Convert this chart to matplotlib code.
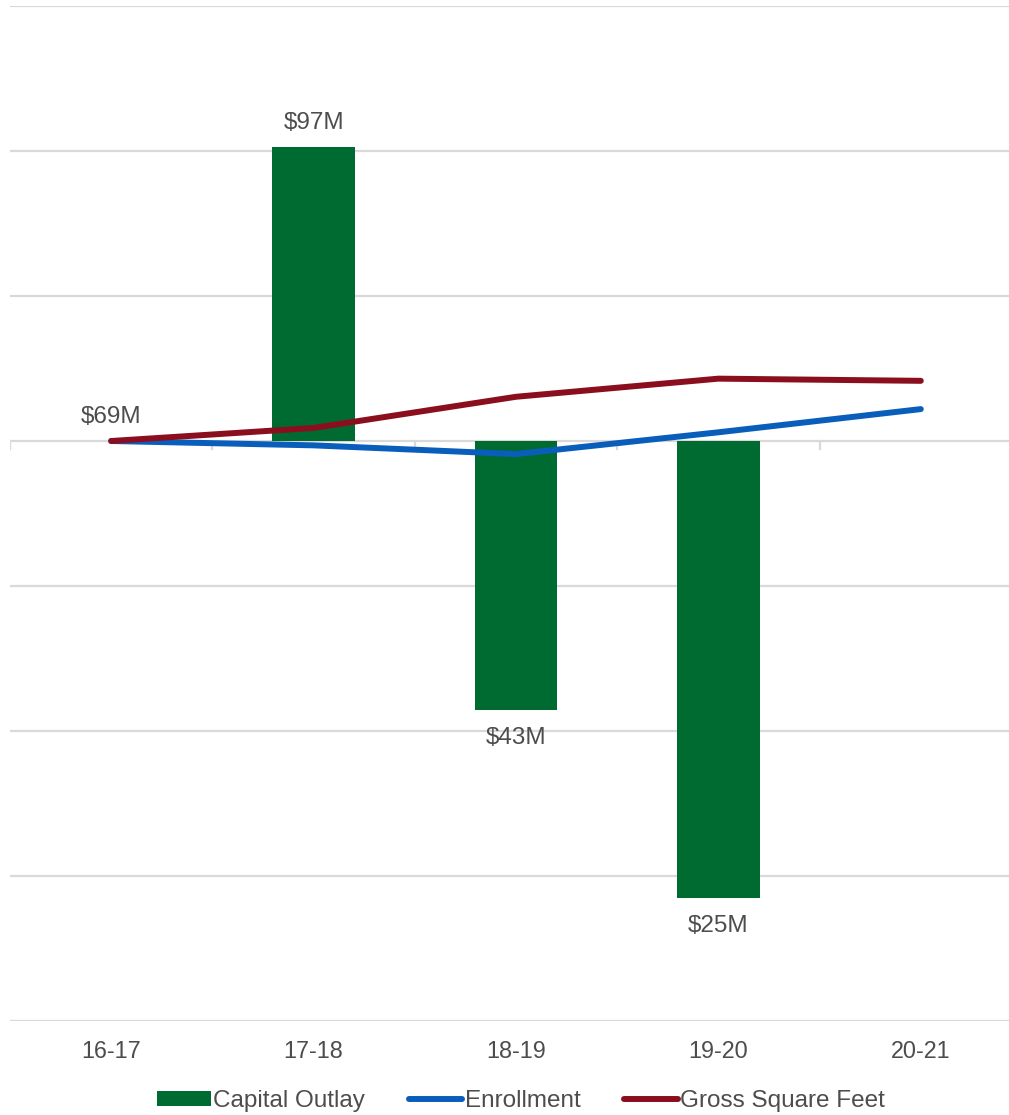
import matplotlib.pyplot as plt
from matplotlib.patches import Patch
from matplotlib.lines import Line2D

plt.rcParams['font.family'] = ['Liberation Sans', 'DejaVu Sans']

# Percent change vs 16-17
years = ['16-17', '17-18', '18-19', '19-20', '20-21']
capital_pct = [0.0, 40.6, -37.1, -63.0]
capital_labels = ['$69M', '$97M', '$43M', '$25M']
enrollment_pct = [0.0, -0.6, -1.8, 1.2, 4.4]
gsf_pct = [0.0, 1.8, 6.1, 8.6, 8.3]

green = '#006B30'
blue = '#0A5EBB'
red = '#8B0E1F'
text_col = '#4D4D4D'
grid_col = '#D9D9D9'

fig = plt.figure(figsize=(10.09, 11.15), dpi=100)
# plot area runs past the right edge of the image, as in the source
ax = fig.add_axes([10 / 1009, 1 - 1021 / 1115, 1012 / 1009, 1015 / 1115])

x = list(range(len(years)))
ax.set_xlim(-0.5, 4.5)
ax.set_ylim(-80, 60)

for g in range(-80, 61, 20):
    ax.axhline(g, color=grid_col, lw=1.6, zorder=0)

# small category ticks on the zero line
for b in [i - 0.5 for i in range(len(years) + 1)]:
    ax.plot([b, b], [0, -1.1], color=grid_col, lw=1.6, zorder=0)

ax.bar(x[:len(capital_pct)], capital_pct, width=0.41, color=green, zorder=2)

ax.plot(x, enrollment_pct, color=blue, lw=4.3, solid_capstyle='round',
        solid_joinstyle='round', zorder=3)
ax.plot(x, gsf_pct, color=red, lw=4.3, solid_capstyle='round',
        solid_joinstyle='round', zorder=4)

for i, (v, lab) in enumerate(zip(capital_pct, capital_labels)):
    off = 17 if v >= 0 else -20
    ax.annotate(lab, (i, v), xytext=(0, off), textcoords='offset points',
                ha='center', va='center', fontsize=17.5, color=text_col)

ax.set_xticks(x)
ax.set_xticklabels(years, fontsize=16.8, color=text_col)
ax.tick_params(axis='x', length=0, pad=14)
ax.set_yticks([])
for s in ax.spines.values():
    s.set_visible(False)

handles = [Patch(facecolor=green, edgecolor='none'),
           Line2D([], [], color=blue, lw=4.3, solid_capstyle='round'),
           Line2D([], [], color=red, lw=4.3, solid_capstyle='round')]
fig.legend(handles, ['Capital Outlay', 'Enrollment', 'Gross Square Feet'],
           loc='center', bbox_to_anchor=(521 / 1009, 1 - 1101 / 1115),
           ncol=3, frameon=False, fontsize=17.5, labelcolor=text_col,
           handlelength=2.2, handleheight=0.6, handletextpad=0.1,
           columnspacing=1.8)

fig.savefig('out.png', dpi=100)
